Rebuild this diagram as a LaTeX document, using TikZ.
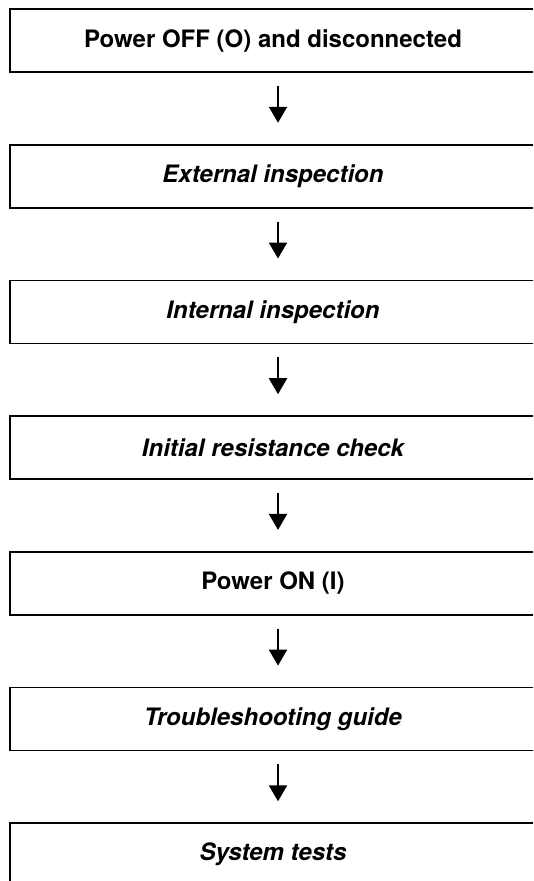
\documentclass[tikz,border=0pt]{standalone}
\usepackage{fontspec}
\setmainfont{TeX Gyre Heros}
\usetikzlibrary{arrows.meta, positioning}
\tikzset{
  every picture/.style={font=\bfseries\fontsize{24}{28}\selectfont, line width=1.8pt},
  stepbox/.style={draw=black, rectangle, minimum width=526pt, minimum height=63pt, inner sep=4pt, align=center},
  flow/.style={-{Triangle[length=16pt, width=18pt]}, draw=black, line width=2.2pt, shorten <=13pt, shorten >=21pt},
}

\begin{document}
\begin{tikzpicture}[x=1pt, y=-1pt]
  \useasboundingbox (0,0) rectangle (533,881);
  \clip (0,0) rectangle (533,881);

  % ---- steps
  \node[stepbox] (off)   at (273,40.5)  {Power OFF (O) and disconnected};
  \node[stepbox] (ext)   at (273,176.2) {\itshape External inspection};
  \node[stepbox] (int)   at (273,311.9) {\itshape Internal inspection};
  \node[stepbox] (res)   at (273,447.6) {\itshape Initial resistance check};
  \node[stepbox] (on)    at (273,583.3) {Power ON (I)};
  \node[stepbox] (guide) at (273,719.0) {\itshape Troubleshooting guide};
  \node[stepbox] (sys)   at (273,854.7) {\itshape System tests};

  % ---- arrows
  \draw[flow] ([xshift=5pt]off.south)   -- ([xshift=5pt]ext.north);
  \draw[flow] ([xshift=5pt]ext.south)   -- ([xshift=5pt]int.north);
  \draw[flow] ([xshift=5pt]int.south)   -- ([xshift=5pt]res.north);
  \draw[flow] ([xshift=5pt]res.south)   -- ([xshift=5pt]on.north);
  \draw[flow] ([xshift=5pt]on.south)    -- ([xshift=5pt]guide.north);
  \draw[flow] ([xshift=5pt]guide.south) -- ([xshift=5pt]sys.north);
\end{tikzpicture}
\end{document}
